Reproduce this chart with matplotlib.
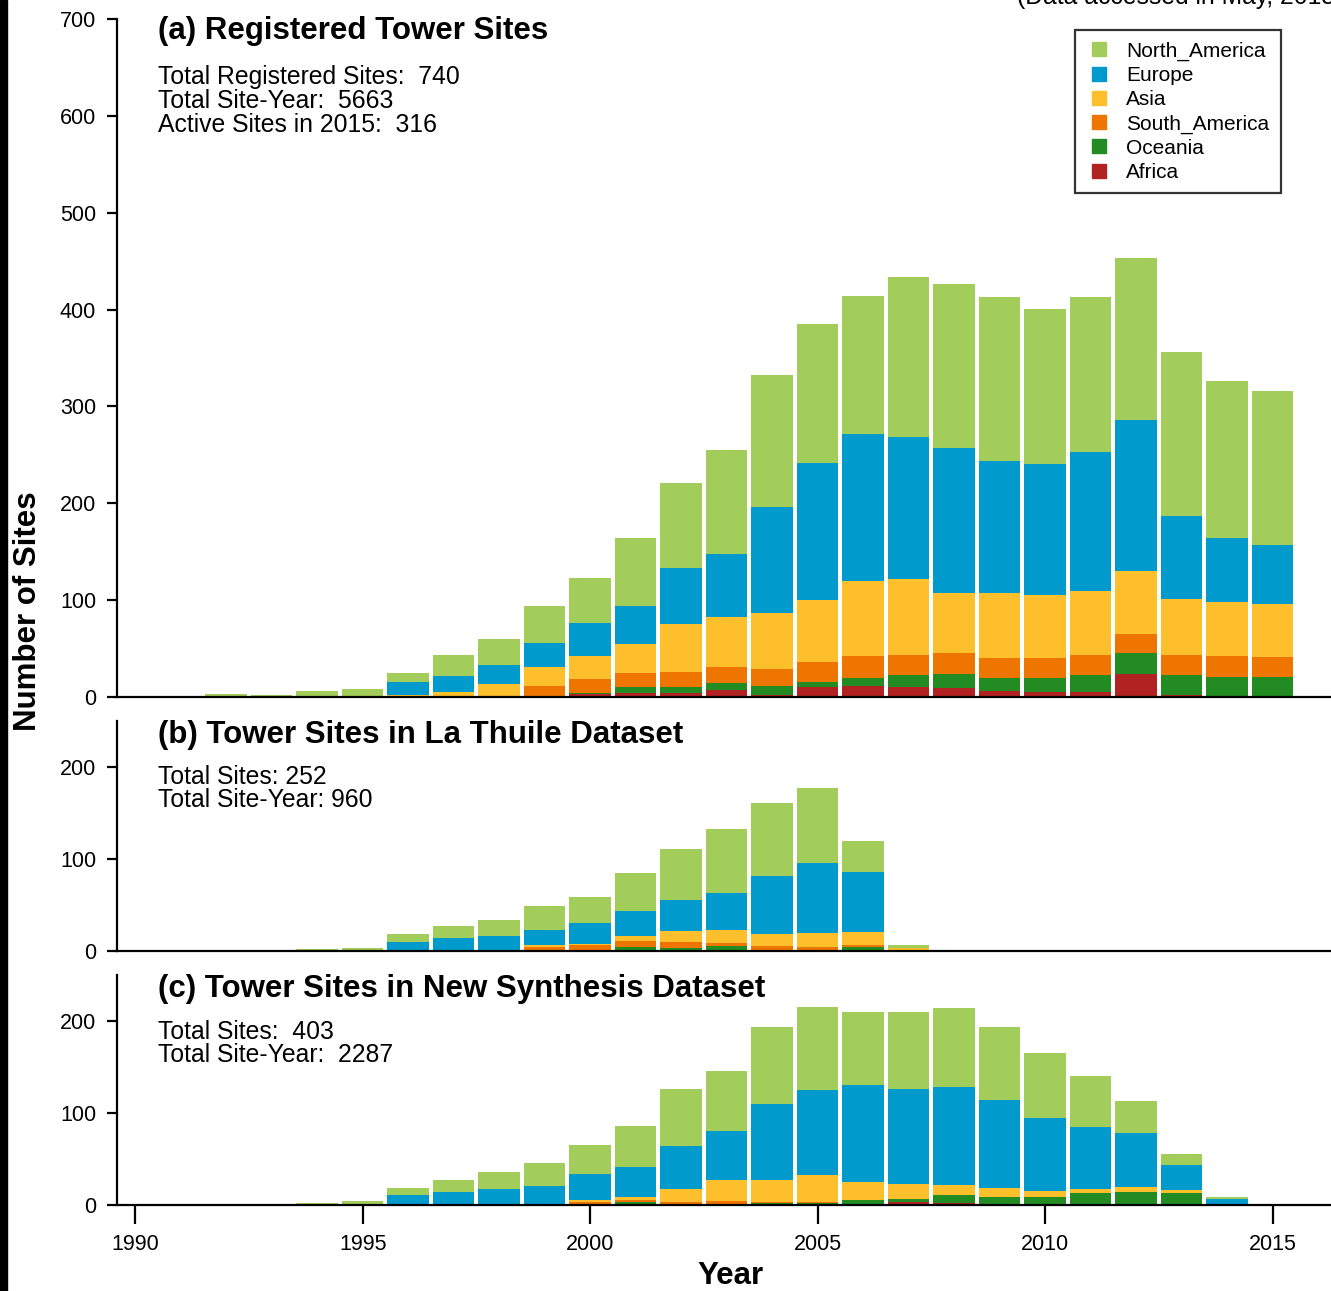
import matplotlib
matplotlib.use('Agg')
import matplotlib.pyplot as plt
from matplotlib.lines import Line2D
from matplotlib.patches import Rectangle
import numpy as np

plt.rcParams['font.family'] = ['Liberation Sans', 'DejaVu Sans']

regions = ['Africa', 'Oceania', 'South_America', 'Asia', 'Europe', 'North_America']
colors = {'North_America': '#a2cd5a', 'Europe': '#009acd', 'Asia': '#fdbf2b',
          'South_America': '#ee7600', 'Oceania': '#228b22', 'Africa': '#b22222'}

# (a) registered sites, 1992-2015
years_a = list(range(1992, 2016))
a_africa  = [0, 0, 0, 0, 0, 0, 0, 0, 3, 4, 4, 7, 2, 10, 11, 10, 9, 6, 5, 5, 24, 2, 1, 0]
a_oceania = [0, 0, 0, 0, 0, 0, 0, 0, 1, 6, 6, 7, 9, 6, 9, 13, 15, 14, 15, 18, 21, 21, 20, 21]
a_samer   = [0, 0, 0, 0, 0, 1, 0, 11, 15, 15, 16, 17, 18, 20, 22, 20, 21, 20, 20, 20, 20, 20, 21, 20]
a_asia    = [0, 0, 0, 0, 2, 4, 13, 20, 23, 30, 49, 52, 58, 64, 78, 79, 62, 67, 65, 66, 65, 58, 56, 55]
a_europe  = [0, 0, 0, 0, 13, 17, 20, 25, 34, 39, 58, 65, 109, 142, 152, 146, 150, 137, 136, 144, 156, 86, 66, 61]
a_namer   = [3, 2, 6, 8, 10, 21, 27, 38, 47, 70, 88, 107, 136, 143, 142, 166, 169, 169, 160, 160, 167, 169, 162, 159]

# (b) La Thuile dataset, 1994-2007
years_b = list(range(1994, 2008))
b_africa  = [0, 0, 0, 0, 0, 0, 0, 0, 0, 0, 0, 0, 0, 0]
b_oceania = [0, 0, 0, 0, 0, 0, 0, 4, 3, 5, 1, 1, 4, 1]
b_samer   = [0, 0, 0, 0, 0, 4, 6, 7, 7, 4, 4, 3, 2, 0]
b_asia    = [0, 0, 0, 0, 0, 2, 2, 5, 12, 14, 14, 16, 15, 2]
b_europe  = [0, 0, 10, 14, 16, 17, 22, 27, 33, 40, 62, 76, 65, 0]
b_namer   = [2, 3, 8, 13, 18, 26, 29, 42, 56, 70, 80, 81, 34, 4]

# (c) new synthesis dataset, 1994-2014
years_c = list(range(1994, 2015))
c_africa  = [0, 0, 0, 0, 0, 0, 1, 0, 0, 0, 0, 0, 0, 3, 2, 1, 0, 1, 0, 0, 0]
c_oceania = [0, 0, 0, 0, 0, 0, 0, 3, 1, 1, 2, 2, 5, 4, 9, 8, 9, 12, 14, 13, 0]
c_samer   = [0, 0, 0, 0, 0, 0, 2, 2, 2, 3, 1, 1, 0, 0, 0, 0, 0, 0, 0, 0, 0]
c_asia    = [0, 0, 0, 0, 0, 1, 2, 4, 14, 23, 24, 30, 20, 16, 11, 9, 6, 4, 6, 3, 0]
c_europe  = [0, 0, 11, 14, 17, 20, 29, 32, 47, 53, 83, 92, 105, 103, 106, 96, 80, 68, 58, 28, 7]
c_namer   = [2, 4, 7, 13, 19, 25, 31, 45, 62, 66, 83, 90, 80, 84, 86, 79, 70, 55, 35, 11, 2]

W, H = 1331, 1291
fig = plt.figure(figsize=(W / 100, H / 100), dpi=100)

def fx(px):
    return px / W

def fy(py):
    return 1 - py / H

left = fx(117)
ax_a = fig.add_axes([left, fy(697), 1 - left, fy(19) - fy(697)])
ax_b = fig.add_axes([left, fy(951), 1 - left, fy(721) - fy(951)])
ax_c = fig.add_axes([left, fy(1205), 1 - left, fy(975) - fy(1205)])

x0 = 1989.6
x1 = x0 + (W - 117) / 45.5

def stack(ax, years, series):
    bottom = np.zeros(len(years))
    for name, vals in zip(regions, series):
        vals = np.array(vals, dtype=float)
        ax.bar(years, vals, bottom=bottom, width=0.91, color=colors[name], linewidth=0)
        bottom += vals

stack(ax_a, years_a, [a_africa, a_oceania, a_samer, a_asia, a_europe, a_namer])
stack(ax_b, years_b, [b_africa, b_oceania, b_samer, b_asia, b_europe, b_namer])
stack(ax_c, years_c, [c_africa, c_oceania, c_samer, c_asia, c_europe, c_namer])

for ax, top, ticks in [(ax_a, 700, range(0, 701, 100)), (ax_b, 250, [0, 100, 200]), (ax_c, 250, [0, 100, 200])]:
    ax.set_xlim(x0, x1)
    ax.set_ylim(0, top)
    ax.set_yticks(list(ticks))
    for s in ['top', 'right']:
        ax.spines[s].set_visible(False)
    ax.spines['left'].set_linewidth(1.6)
    ax.spines['bottom'].set_linewidth(1.6)
    ax.tick_params(axis='y', direction='out', length=7, width=1.6, labelsize=15.5, pad=8)
    ax.patch.set_visible(False)

for ax in [ax_a, ax_b]:
    ax.set_xticks([])

ax_c.set_xticks([1990, 1995, 2000, 2005, 2010, 2015])
ax_c.tick_params(axis='x', direction='out', length=14, width=1.6, labelsize=15.5, pad=7)

# titles and totals
tsize, isize = 22.5, 17.8
fig.text(fx(158), fy(31), '(a) Registered Tower Sites', fontsize=tsize, fontweight='bold', va='center')
fig.text(fx(158), fy(77), 'Total Registered Sites:  740', fontsize=isize, va='center')
fig.text(fx(158), fy(101), 'Total Site-Year:  5663', fontsize=isize, va='center')
fig.text(fx(158), fy(125), 'Active Sites in 2015:  316', fontsize=isize, va='center')

fig.text(fx(158), fy(735), '(b) Tower Sites in La Thuile Dataset', fontsize=tsize, fontweight='bold', va='center')
fig.text(fx(158), fy(777), 'Total Sites: 252', fontsize=isize, va='center')
fig.text(fx(158), fy(800), 'Total Site-Year: 960', fontsize=isize, va='center')

fig.text(fx(158), fy(989), '(c) Tower Sites in New Synthesis Dataset', fontsize=tsize, fontweight='bold', va='center')
fig.text(fx(158), fy(1032), 'Total Sites:  403', fontsize=isize, va='center')
fig.text(fx(158), fy(1055), 'Total Site-Year:  2287', fontsize=isize, va='center')

fig.text(fx(1017), fy(-3), '(Data accessed in May, 2015)', fontsize=isize, va='center')

fig.text(fx(28), fy(611), 'Number of Sites', fontsize=tsize, fontweight='bold', rotation=90, va='center', ha='center')
fig.text(fx(730), fy(1276), 'Year', fontsize=tsize, fontweight='bold', va='center', ha='center')

# legend
order = ['North_America', 'Europe', 'Asia', 'South_America', 'Oceania', 'Africa']
handles = [Line2D([], [], marker='s', linestyle='none', markersize=10.5,
                  markerfacecolor=colors[n], markeredgecolor=colors[n]) for n in order]
leg = ax_a.legend(handles, order, loc='upper right', bbox_to_anchor=(fx(1281), fy(30)),
                  bbox_transform=fig.transFigure, fontsize=15, frameon=True, fancybox=False,
                  edgecolor='black', handletextpad=0.7, labelspacing=0.25, borderpad=0.55,
                  handlelength=1.2, borderaxespad=0)
leg.get_frame().set_linewidth(1.6)

fig.patches.append(Rectangle((0, 0), fx(7), 1, transform=fig.transFigure, color='black'))

fig.savefig('out.png', dpi=100)
